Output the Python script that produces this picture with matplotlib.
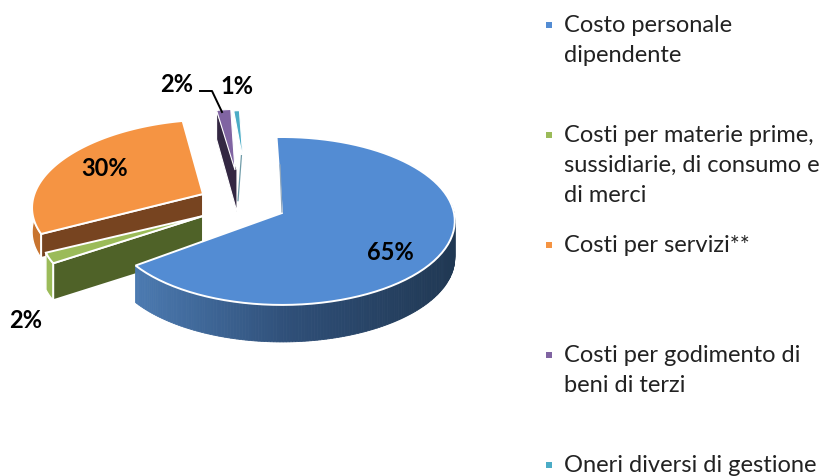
import numpy as np
import matplotlib
matplotlib.use("Agg")
import matplotlib.pyplot as plt
from matplotlib.patches import Polygon
from matplotlib.colors import to_rgb

plt.rcParams['font.family'] = ['Lato', 'DejaVu Sans']

# data
categories = [
    "Costo personale\ndipendente",
    "Costi per materie prime,\nsussidiarie, di consumo e\ndi merci",
    "Costi per servizi**",
    "Costi per godimento di\nbeni di terzi",
    "Oneri diversi di gestione",
]
values = [65.4, 2.4, 29.5, 1.8, 0.9]
pctLabels = ["65%", "2%", "30%", "2%", "1%"]

colors = ["#538CD3", "#9BBB59", "#F59443", "#8064A2", "#4BACC6"]
cutColors = [None, "#4F6228", "#774420", "#332742", None]
rimColors = [None, "#9BBB59", "#C8742F", None, None]

# picture coordinates of each exploded slice
apexes = [(282, 213), (203, 216), (203, 194), (235, 170), (243, 160)]
scales = [1.0, 0.9, 0.98, 0.8, 0.65]
shears = [0, 0.38, 0.15, 0.12, 0]
rimDepths = [37, 37, 24, 0, 0]
labelPos = [(390, 253), (26, 320), (105, 168), (177, 85), (237, 86)]

startAngle = 92
radiusX = 172
radiusY = 83.2
persp = 0.095
depth = 37


def project(i, angles):
    """disk angle (degrees) -> picture x,y with a bit of perspective"""
    apex, scale = apexes[i], scales[i]
    th = np.radians(angles)
    u, v = np.cos(th), np.sin(th)
    w = 1 + persp * v
    dx = scale * radiusX * u / w
    dy = scale * radiusY * v / w
    return apex[0] + dx + shears[i] * dy, apex[1] - dy


def blueShade(x):
    stops = [133, 290, 455]
    cols = np.array([to_rgb("#4C7BB2"), to_rgb("#2F4F78"), to_rgb("#203853")])
    return [np.interp(x, stops, cols[:, c]) for c in range(3)]


def addPoly(ax, xs, ys, color, edge="white", lw=1.4):
    ax.add_patch(Polygon(np.column_stack([xs, ys]), closed=True,
                         facecolor=color, edgecolor=edge, linewidth=lw))


def drawSlice(ax, i, a0, a1):
    """a0 > a1, slice runs clockwise from a0 to a1"""
    apex = apexes[i]
    ang = np.linspace(a0, a1, 80)
    x, y = project(i, ang)

    # outer wall
    if i == 0:
        sx, sy = project(i, np.linspace(a1, a1 + 150, 160))
        for k in range(len(sx) - 1):
            col = blueShade((sx[k] + sx[k + 1]) / 2)
            addPoly(ax, [sx[k], sx[k + 1], sx[k + 1], sx[k]],
                    [sy[k], sy[k + 1], sy[k + 1] + depth, sy[k] + depth],
                    col, edge=col, lw=0.6)
    elif rimColors[i] is not None:
        addPoly(ax, np.r_[x, x[::-1]], np.r_[y, y[::-1] + rimDepths[i]], rimColors[i], lw=1.0)

    # cut face
    if i in (1, 2):
        addPoly(ax, [apex[0], x[0], x[0], apex[0]],
                [apex[1], y[0], y[0] + rimDepths[i], apex[1] + rimDepths[i]], cutColors[i])
    if i == 3:
        addPoly(ax, [apex[0] + 2, x[0], x[0], apex[0] + 2],
                [apex[1], y[0], y[0] + depth - 8, apex[1] + depth + 5],
                cutColors[i], lw=0.8)
    if i == 4:
        ax.plot([x[-1] + 2, apex[0] - 5], [y[-1] + 45, y[-1] + 90], color="#6F9BA8", lw=0.9)

    # top surface
    addPoly(ax, np.r_[apex[0], x], np.r_[apex[1], y], colors[i], lw=1.4 if i < 3 else 0.8)


def main():
    fig = plt.figure(figsize=(8.28, 4.76), dpi=100)
    ax = fig.add_axes([0, 0, 1, 1])

    sweep = np.array(values) / sum(values) * 360
    ends = startAngle - np.cumsum(sweep)
    starts = np.r_[startAngle, ends[:-1]]

    for i in [2, 1, 0, 3, 4]:
        drawSlice(ax, i, starts[i], ends[i])

    # seam on the blue slice
    ax.plot([280, 282], [165, 212], color="#8FA6BC", lw=0.9)

    # leader of the purple label
    ax.plot([200, 212, 222], [91, 91, 112], color="black", lw=1.4)

    for i, txt in enumerate(pctLabels):
        ax.text(labelPos[i][0], labelPos[i][1], txt, fontsize=17, fontweight="bold",
                color="black", ha="center", va="center")

    # legend
    for i, name in enumerate(categories):
        yPos = 25 + i * 110
        ax.add_patch(Polygon([(546, yPos - 3), (552, yPos - 3), (552, yPos + 3), (552 - 6, yPos + 3)],
                             closed=True, facecolor=colors[i], edgecolor="none"))
        ax.text(564, yPos - 10, name, fontsize=17, color="#222222", ha="left", va="top",
                linespacing=1.54)

    ax.set_xlim(0, 828)
    ax.set_ylim(476, 0)
    ax.axis("off")
    fig.savefig("out.png", dpi=100, facecolor="white")


if __name__ == "__main__":
    main()
